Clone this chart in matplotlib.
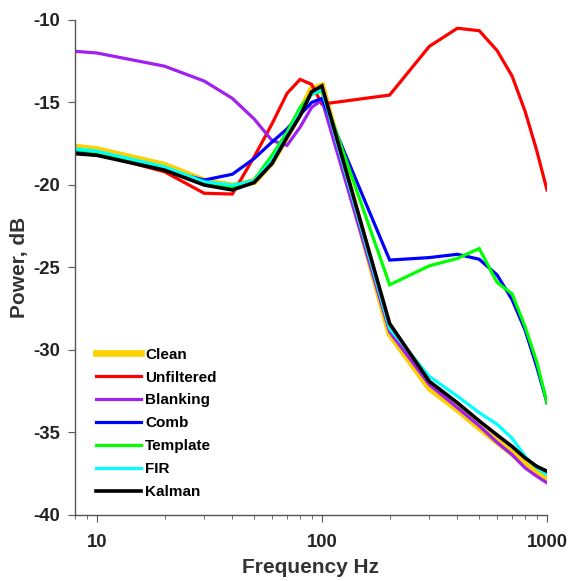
import matplotlib
matplotlib.use("Agg")
import matplotlib.pyplot as plt
from matplotlib.ticker import LogLocator, NullFormatter, FixedLocator

plt.rcParams['font.family'] = ['Liberation Sans', 'DejaVu Sans']
plt.rcParams['font.weight'] = 'bold'
plt.rcParams['axes.unicode_minus'] = False

freq = [8, 10, 20, 30, 40, 50, 60, 70, 80, 90, 100,
        200, 300, 400, 500, 600, 700, 800, 900, 1000]

clean = [-17.7, -17.85, -18.8, -19.75, -20.05, -19.8, -18.6, -17.0, -15.6, -14.2, -14.0,
         -29.0, -32.3, -33.6, -34.7, -35.55, -36.25, -36.95, -37.45, -37.75]
unfiltered = [-18.0, -18.1, -19.2, -20.5, -20.55, -18.3, -16.3, -14.45, -13.6, -13.9, -15.1,
              -14.55, -11.6, -10.5, -10.65, -11.85, -13.4, -15.55, -17.9, -20.3]
blanking = [-11.9, -12.0, -12.8, -13.7, -14.75, -16.0, -17.3, -17.6, -16.5, -15.3, -14.85,
            -28.9, -32.1, -33.5, -34.6, -35.6, -36.35, -37.15, -37.65, -38.05]
comb = [-18.0, -18.1, -19.1, -19.7, -19.35, -18.4, -17.4, -16.6, -15.75, -15.0, -14.75,
        -24.55, -24.4, -24.2, -24.5, -25.45, -26.95, -28.8, -31.0, -33.2]
template = [-17.85, -18.0, -19.0, -19.85, -20.1, -19.7, -18.2, -16.8, -15.3, -14.5, -14.3,
            -26.05, -24.9, -24.45, -23.85, -25.9, -26.6, -28.6, -30.7, -33.2]
fir = [-17.8, -17.95, -18.9, -19.8, -20.0, -19.75, -18.5, -17.0, -15.6, -14.5, -14.2,
       -28.7, -31.6, -32.8, -33.8, -34.5, -35.35, -36.45, -37.15, -37.55]
kalman = [-18.1, -18.2, -19.1, -20.0, -20.3, -19.85, -18.7, -17.1, -15.8, -14.35, -14.0,
          -28.4, -31.9, -33.2, -34.3, -35.15, -35.85, -36.55, -37.05, -37.35]

series = [
    ('Clean', clean, '#FFD000', 4.8),
    ('Unfiltered', unfiltered, '#FF0000', 2.3),
    ('Blanking', blanking, '#A020F0', 2.3),
    ('Comb', comb, '#0000FF', 2.3),
    ('Template', template, '#00FF00', 2.3),
    ('FIR', fir, '#00FFFF', 2.3),
    ('Kalman', kalman, '#000000', 2.6),
]

fig = plt.figure(figsize=(5.69, 5.81), dpi=100)
ax = fig.add_axes([0.1318, 0.1136, 0.8295, 0.852])

for name, vals, col, lw in series:
    ax.plot(freq, vals, color=col, lw=lw, label=name, solid_joinstyle='miter')

ax.set_xscale('log')
ax.set_xlim(8, 1000)
ax.set_ylim(-40, -10)
ax.set_yticks([-40, -35, -30, -25, -20, -15, -10])
ax.xaxis.set_major_locator(FixedLocator([10, 100, 1000]))
ax.set_xticklabels(['10', '100', '1000'])
ax.xaxis.set_minor_locator(LogLocator(base=10, subs=range(2, 10)))
ax.xaxis.set_minor_formatter(NullFormatter())

for s in ['top', 'right']:
    ax.spines[s].set_visible(False)
for s in ['left', 'bottom']:
    ax.spines[s].set_color('#555555')
    ax.spines[s].set_linewidth(1.0)
ax.tick_params(which='major', direction='out', length=5, color='#555555',
               labelsize=13.3, pad=6, labelcolor='#222222')
ax.tick_params(which='minor', direction='out', length=3, color='#555555')
ax.tick_params(axis='x', which='major', pad=9)

ax.set_xlabel('Frequency Hz', fontsize=15, fontweight='bold', color='#333333', labelpad=5)
ax.set_ylabel('Power, dB', fontsize=15, fontweight='bold', color='#333333', labelpad=3)

# legend sits inside the plot, no frame
ax.legend(loc='upper left', bbox_to_anchor=(0.045, 0.338), frameon=False,
          fontsize=11, handlelength=2.9, handletextpad=0.3, labelspacing=0.58,
          borderpad=0, borderaxespad=0)

fig.savefig('out.png', dpi=100)
